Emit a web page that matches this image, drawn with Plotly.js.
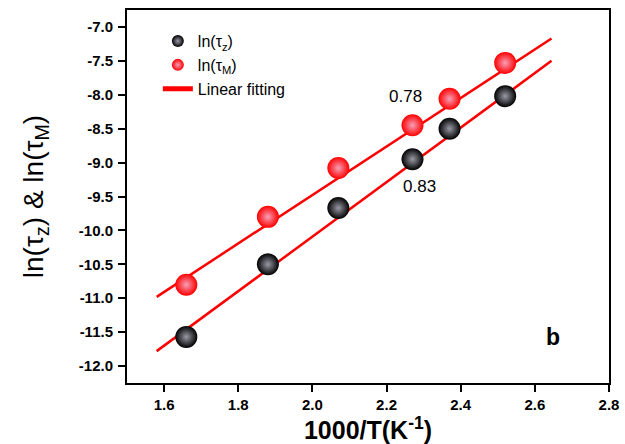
<!DOCTYPE html>
<html><head><meta charset="utf-8">
<script src="https://cdn.plot.ly/plotly-3.0.1.min.js"></script>
<style>html,body{margin:0;padding:0;background:#fff}</style>
</head><body><div id="chart" style="width:625px;height:444px"></div>
<script>
// Data
const invT = [1.66, 1.88, 2.07, 2.27, 2.37, 2.52];
const lnTauZ = [-11.57, -10.50, -9.67, -8.95, -8.50, -8.02];
const lnTauM = [-10.80, -9.80, -9.08, -8.45, -8.06, -7.53];
// Linear fitting lines (end points)
const fitX = [1.58, 2.645];
const fitZ = [-11.78, -7.50];
const fitM = [-10.98, -7.17];
const yTickVals = [-12.0, -11.5, -11.0, -10.5, -10.0, -9.5, -9.0, -8.5, -8.0, -7.5, -7.0];
const yTickText = ["-12.0", "-11.5", "-11.0", "-10.5", "-10.0", "-9.5", "-9.0", "-8.5", "-8.0", "-7.5", "-7.0"];
const xTickVals = [1.6, 1.8, 2.0, 2.2, 2.4, 2.6, 2.8];
const xTickText = ["1.6", "1.8", "2.0", "2.2", "2.4", "2.6", "2.8"];

const font = "Liberation Sans, Arial, sans-serif";
const traces = [
  {x: fitX, y: fitM, mode: 'lines', line: {color: '#ff0000', width: 2.5}, showlegend: false, hoverinfo: 'skip'},
  {x: fitX, y: fitZ, mode: 'lines', line: {color: '#ff0000', width: 2.5}, name: 'Linear fitting', legendrank: 3},
  {x: invT, y: lnTauZ, mode: 'markers', name: 'ln(τ<sub>z</sub>)', legendrank: 1,
   marker: {size: 22, color: '#000', gradient: {type: 'radial', color: '#9a9aa8'}, line: {width: 0}}},
  {x: invT, y: lnTauM, mode: 'markers', name: 'ln(τ<sub>M</sub>)', legendrank: 2,
   marker: {size: 22, color: '#ff0000', gradient: {type: 'radial', color: '#f6a0b8'}, line: {width: 0}}}
];
const layout = {
  width: 625, height: 444,
  margin: {l: 127, r: 16, t: 10, b: 61},
  paper_bgcolor: '#fff', plot_bgcolor: '#fff',
  showlegend: true,
  legend: {x: 0.064, y: 0.962, xanchor: 'left', yanchor: 'top', bgcolor: 'rgba(0,0,0,0)',
           font: {family: font, size: 16, color: '#000'}, itemsizing: 'constant', tracegroupgap: 0},
  xaxis: {range: [1.5, 2.8], tickmode: 'array', tickvals: xTickVals, ticktext: xTickText,
          showgrid: false, zeroline: false, showline: true, linecolor: '#000', linewidth: 2, mirror: true,
          ticks: 'outside', ticklen: 7, tickwidth: 2, tickcolor: '#000',
          tickfont: {family: font, size: 15, color: '#000', weight: 'bold'},
          title: {text: '<b>1000/T(K<sup>-1</sup>)</b>', font: {family: font, size: 25, color: '#000'}, standoff: 0}},
  yaxis: {range: [-12.25, -6.75], tickmode: 'array', tickvals: yTickVals, ticktext: yTickText,
          showgrid: false, zeroline: false, showline: true, linecolor: '#000', linewidth: 2, mirror: true,
          ticks: 'outside', ticklen: 7, tickwidth: 2, tickcolor: '#000', ticklabelstandoff: 2,
          tickfont: {family: font, size: 15, color: '#000', weight: 'bold'},
          title: {text: 'ln(τ<sub>z</sub>) & ln(τ<sub>M</sub>)', font: {family: font, size: 28, color: '#000'}, standoff: 27}},
  annotations: [
    {x: 2.25, y: -8.03, text: '0.78', showarrow: false, font: {family: font, size: 17, color: '#000'}},
    {x: 2.29, y: -9.35, text: '0.83', showarrow: false, font: {family: font, size: 17, color: '#000'}},
    {x: 2.65, y: -11.57, text: '<b>b</b>', showarrow: false, font: {family: font, size: 23, color: '#000'}}
  ]
};
Plotly.newPlot('chart', traces, layout, {displayModeBar: false, staticPlot: true});
</script></body></html>
